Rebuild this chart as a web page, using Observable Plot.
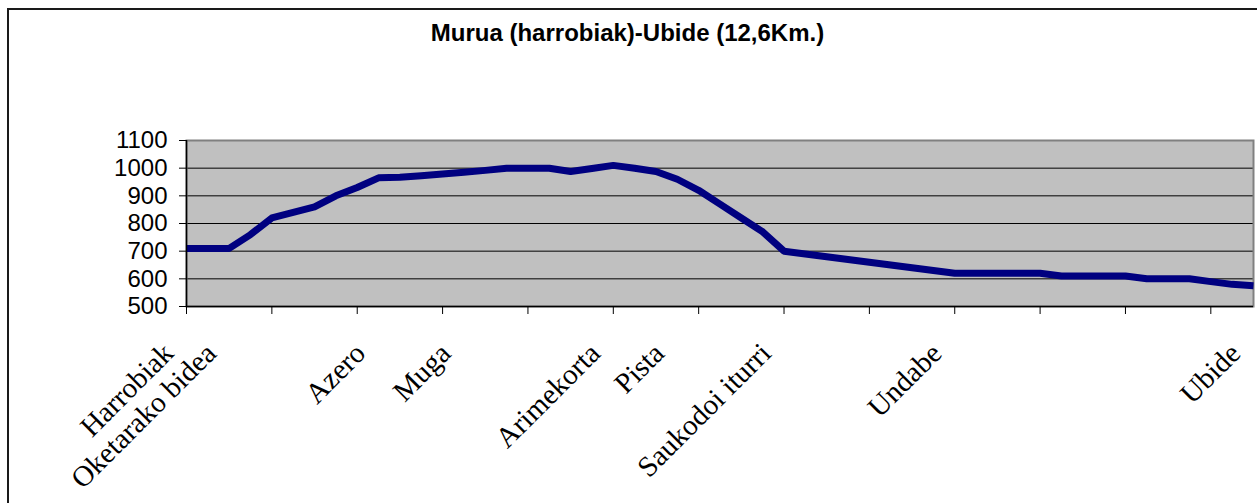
<!DOCTYPE html>
<html>
<head>
<meta charset="utf-8">
<script src="https://cdn.jsdelivr.net/npm/d3@7"></script>
<script src="https://cdn.jsdelivr.net/npm/@observablehq/plot@0.6"></script>
<style>
  html, body { margin: 0; padding: 0; background: #fff; }
  body { width: 1257px; height: 503px; overflow: hidden; position: relative; }
  #frame { position: absolute; left: 7px; top: 8px; width: 1400px; height: 700px;
           border-left: 2px solid #1a1a1a; border-top: 2px solid #1a1a1a; box-sizing: border-box; }
  #title { position: absolute; left: 0; top: 19px; width: 1255px; text-align: center;
           font: bold 24px "Liberation Sans", Arial, sans-serif; color: #000; line-height: 28px; }
  #chart { position: absolute; left: 0; top: 100px; }
</style>
</head>
<body>
<div id="frame"></div>
<div id="title">Murua (harrobiak)-Ubide (12,6Km.)</div>
<div id="chart"></div>
<script>
// Elevation (m) at each of the 51 category points along the route
const elevation = [710,710,710,760,820,840,860,900,930,965,967,973,979,985,992,1000,1000,1000,988,999,1010,1000,988,960,920,870,820,770,700,690,680,670,660,650,640,630,620,620,620,620,620,610,610,610,610,600,600,600,590,580,575];
// Named places and the category index at which they sit
const placeNames = ["Harrobiak","Oketarako bidea","Azero","Muga","Arimekorta","Pista","Saukodoi iturri","Undabe","Ubide"];
const placeIndex = [0,2,9,13,20,23,28,36,50];
// Axis ticks
const yTicks = [500,600,700,800,900,1000,1100];
const xTickIndex = [0,4,8,12,16,20,24,28,32,36,40,44,48];

const data = elevation.map((e, i) => ({i, e}));
const places = placeNames.map((name, k) => ({name, i: placeIndex[k]}));

const chart = Plot.plot({
  width: 1257,
  height: 403,
  marginLeft: 186,
  marginRight: 4,
  marginTop: 40,
  marginBottom: 197,
  style: {background: "transparent", color: "#000", overflow: "visible"},
  x: {type: "linear", domain: [0, 50]},
  y: {domain: [500, 1100]},
  marks: [
    Plot.frame({fill: "#c0c0c0", stroke: null}),
    Plot.ruleY(yTicks, {stroke: "#000", strokeWidth: 1}),
    Plot.frame({stroke: "#808080", strokeWidth: 2}),
    Plot.line(data, {x: "i", y: "e", stroke: "#000080", strokeWidth: 7, strokeLinejoin: "round", strokeLinecap: "butt"}),
    Plot.ruleX([0], {stroke: "#000", strokeWidth: 1.5}),
    Plot.ruleY([500], {stroke: "#000", strokeWidth: 1.5}),
    Plot.axisY({ticks: yTicks, tickSize: 7, tickPadding: 12, tickFormat: d => String(d),
                fontSize: 24, fontFamily: "Liberation Sans, Arial, sans-serif", label: null}),
    Plot.axisX({ticks: xTickIndex, tickSize: 8, tickFormat: () => "", label: null}),
    Plot.text(places, {x: "i", frameAnchor: "bottom", text: "name", rotate: -45,
                       textAnchor: "end", lineAnchor: "top", dx: -26, dy: 34,
                       fontSize: 29, fontFamily: "Liberation Serif, Times New Roman, serif", fill: "#000"})
  ]
});
document.getElementById("chart").appendChild(chart);
</script>
</body>
</html>
